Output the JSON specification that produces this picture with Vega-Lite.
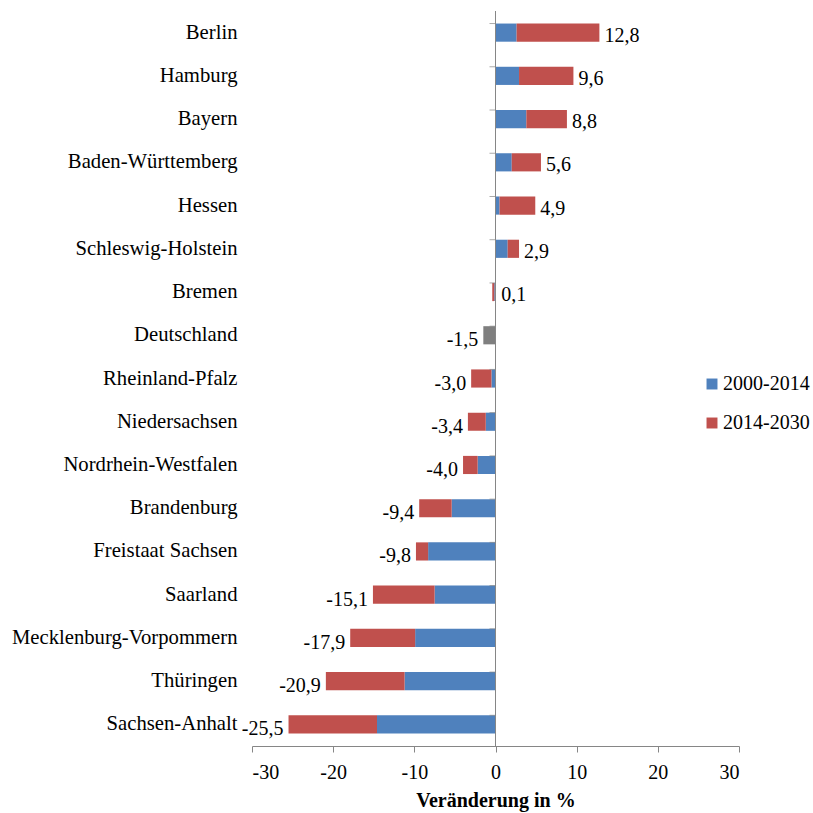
{
  "$schema": "https://vega.github.io/schema/vega-lite/v6.json",
  "width": 487,
  "height": 735,
  "autosize": "none",
  "padding": {"left": 252, "top": 11, "right": 74, "bottom": 67},
  "config": {
    "view": {"stroke": null},
    "font": "Liberation Serif",
    "text": {"font": "Liberation Serif"},
    "axis": {"labelFont": "Liberation Serif", "titleFont": "Liberation Serif", "labelColor": "#000", "titleColor": "#000"},
    "legend": {"labelFont": "Liberation Serif", "labelColor": "#000"}
  },
  "datasets": {
    "bars": [
      {"region": "Berlin", "period": "2000-2014", "value": 2.6, "o": 1},
      {"region": "Berlin", "period": "2014-2030", "value": 10.2, "o": 2},
      {"region": "Hamburg", "period": "2000-2014", "value": 2.9, "o": 1},
      {"region": "Hamburg", "period": "2014-2030", "value": 6.7, "o": 2},
      {"region": "Bayern", "period": "2000-2014", "value": 3.8, "o": 1},
      {"region": "Bayern", "period": "2014-2030", "value": 5.0, "o": 2},
      {"region": "Baden-Württemberg", "period": "2000-2014", "value": 2.0, "o": 1},
      {"region": "Baden-Württemberg", "period": "2014-2030", "value": 3.6, "o": 2},
      {"region": "Hessen", "period": "2000-2014", "value": 0.5, "o": 1},
      {"region": "Hessen", "period": "2014-2030", "value": 4.4, "o": 2},
      {"region": "Schleswig-Holstein", "period": "2000-2014", "value": 1.5, "o": 1},
      {"region": "Schleswig-Holstein", "period": "2014-2030", "value": 1.4, "o": 2},
      {"region": "Bremen", "period": "2000-2014", "value": -0.15, "o": 1},
      {"region": "Bremen", "period": "2014-2030", "value": -0.25, "o": 2},
      {"region": "Deutschland", "period": "Deutschland", "value": -1.5, "o": 1},
      {"region": "Rheinland-Pfalz", "period": "2000-2014", "value": -0.5, "o": 1},
      {"region": "Rheinland-Pfalz", "period": "2014-2030", "value": -2.5, "o": 2},
      {"region": "Niedersachsen", "period": "2000-2014", "value": -1.2, "o": 1},
      {"region": "Niedersachsen", "period": "2014-2030", "value": -2.2, "o": 2},
      {"region": "Nordrhein-Westfalen", "period": "2000-2014", "value": -2.2, "o": 1},
      {"region": "Nordrhein-Westfalen", "period": "2014-2030", "value": -1.8, "o": 2},
      {"region": "Brandenburg", "period": "2000-2014", "value": -5.4, "o": 1},
      {"region": "Brandenburg", "period": "2014-2030", "value": -4.0, "o": 2},
      {"region": "Freistaat Sachsen", "period": "2000-2014", "value": -8.3, "o": 1},
      {"region": "Freistaat Sachsen", "period": "2014-2030", "value": -1.5, "o": 2},
      {"region": "Saarland", "period": "2000-2014", "value": -7.5, "o": 1},
      {"region": "Saarland", "period": "2014-2030", "value": -7.6, "o": 2},
      {"region": "Mecklenburg-Vorpommern", "period": "2000-2014", "value": -9.9, "o": 1},
      {"region": "Mecklenburg-Vorpommern", "period": "2014-2030", "value": -8.0, "o": 2},
      {"region": "Thüringen", "period": "2000-2014", "value": -11.2, "o": 1},
      {"region": "Thüringen", "period": "2014-2030", "value": -9.7, "o": 2},
      {"region": "Sachsen-Anhalt", "period": "2000-2014", "value": -14.6, "o": 1},
      {"region": "Sachsen-Anhalt", "period": "2014-2030", "value": -10.9, "o": 2}
    ],
    "totals": [
      {"region": "Berlin", "total": 12.8, "label": "12,8"},
      {"region": "Hamburg", "total": 9.6, "label": "9,6"},
      {"region": "Bayern", "total": 8.8, "label": "8,8"},
      {"region": "Baden-Württemberg", "total": 5.6, "label": "5,6"},
      {"region": "Hessen", "total": 4.9, "label": "4,9"},
      {"region": "Schleswig-Holstein", "total": 2.9, "label": "2,9"},
      {"region": "Bremen", "total": 0.1, "label": "0,1"},
      {"region": "Deutschland", "total": -1.5, "label": "-1,5"},
      {"region": "Rheinland-Pfalz", "total": -3.0, "label": "-3,0"},
      {"region": "Niedersachsen", "total": -3.4, "label": "-3,4"},
      {"region": "Nordrhein-Westfalen", "total": -4.0, "label": "-4,0"},
      {"region": "Brandenburg", "total": -9.4, "label": "-9,4"},
      {"region": "Freistaat Sachsen", "total": -9.8, "label": "-9,8"},
      {"region": "Saarland", "total": -15.1, "label": "-15,1"},
      {"region": "Mecklenburg-Vorpommern", "total": -17.9, "label": "-17,9"},
      {"region": "Thüringen", "total": -20.9, "label": "-20,9"},
      {"region": "Sachsen-Anhalt", "total": -25.5, "label": "-25,5"}
    ]
  },
  "layer": [
    {
      "data": {"name": "bars"},
      "mark": {"type": "bar"},
      "encoding": {
        "y": {
          "field": "region", "type": "nominal", "sort": null,
          "scale": {"paddingInner": 0.58, "paddingOuter": 0.29},
          "axis": {"title": null, "domain": false, "ticks": false, "labelPadding": 15, "labelFontSize": 20.7, "labelLimit": 400, "labelFont": "Liberation Serif", "labelColor": "#000"}
        },
        "x": {
          "field": "value", "type": "quantitative", "stack": "zero",
          "scale": {"domain": [-30, 30], "nice": false},
          "axis": {
            "title": "Veränderung in %", "titleFontSize": 20, "titleFontWeight": "bold", "titlePadding": 8,
            "values": [-30, -20, -10, 0, 10, 20, 30],
            "labelExpr": "replace(datum.label, '−', '-')",
            "labelFontSize": 20, "labelPadding": 10, "labelFont": "Liberation Serif",
            "grid": false, "domainColor": "#868686", "tickColor": "#868686", "tickSize": 6
          }
        },
        "color": {
          "field": "period", "type": "nominal",
          "scale": {"domain": ["2000-2014", "2014-2030", "Deutschland"], "range": ["#4F81BD", "#C0504D", "#7F7F7F"]},
          "legend": {
            "title": null, "values": ["2000-2014", "2014-2030"], "orient": "none",
            "legendX": 450, "legendY": 363, "symbolType": "square", "symbolSize": 120,
            "labelFontSize": 20, "rowPadding": 19, "symbolStrokeWidth": 0, "labelOffset": 1
          }
        },
        "order": {"field": "o", "type": "quantitative"}
      }
    },
    {
      "data": {"name": "totals"},
      "mark": {"type": "rule", "color": "#868686", "strokeWidth": 1},
      "encoding": {
        "x": {"datum": 0, "type": "quantitative"}
      }
    },
    {
      "data": {"name": "totals"},
      "mark": {"type": "tick", "orient": "horizontal", "color": "#868686", "size": 6, "thickness": 1, "xOffset": -3},
      "encoding": {
        "x": {"datum": 0, "type": "quantitative"},
        "y": {"field": "region", "type": "nominal", "sort": null, "bandPosition": 0}
      }
    },
    {
      "data": {"name": "totals"},
      "transform": [{"filter": "datum.total >= 0"}],
      "mark": {"type": "text", "align": "left", "baseline": "middle", "dx": 5, "dy": 3, "fontSize": 20, "font": "Liberation Serif", "color": "#000"},
      "encoding": {
        "y": {"field": "region", "type": "nominal", "sort": null},
        "x": {"field": "total", "type": "quantitative"},
        "text": {"field": "label"}
      }
    },
    {
      "data": {"name": "totals"},
      "transform": [{"filter": "datum.total < 0"}],
      "mark": {"type": "text", "align": "right", "baseline": "middle", "dx": -5, "dy": 5, "fontSize": 20, "font": "Liberation Serif", "color": "#000"},
      "encoding": {
        "y": {"field": "region", "type": "nominal", "sort": null},
        "x": {"field": "total", "type": "quantitative"},
        "text": {"field": "label"}
      }
    }
  ]
}
